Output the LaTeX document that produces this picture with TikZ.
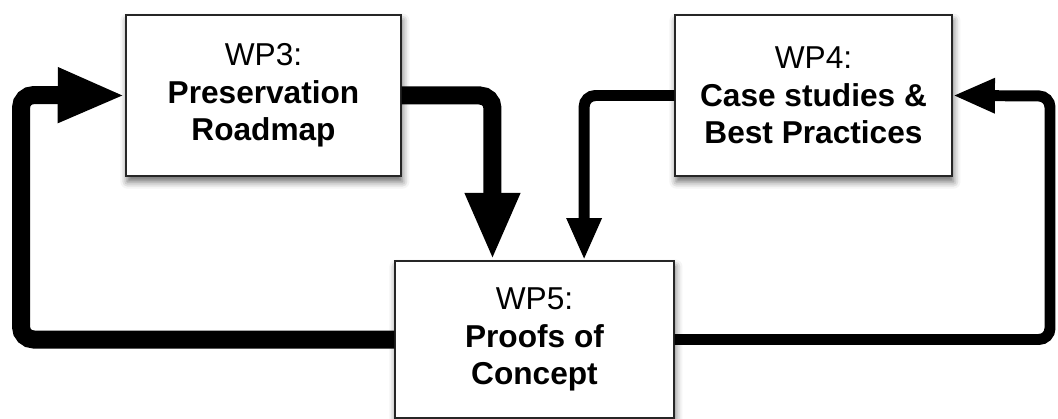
\documentclass[tikz,border=0pt]{standalone}
\usepackage{fontspec}
\setmainfont{Liberation Sans}
\usetikzlibrary{arrows.meta,positioning,shadows.blur}

\begin{document}
\begin{tikzpicture}[
  x=0.025cm,y=-0.025cm,
  every node/.style={font=\fontsize{22.5}{26.5}\selectfont,align=center},
  wp/.style={draw=black!85,line width=1pt,fill=white,inner sep=0pt,
    blur shadow={shadow xshift=1pt,shadow yshift=-4pt,shadow blur radius=5pt,shadow opacity=60}},
  arrbig/.style={-{Triangle[length=48pt,width=36pt]},line width=12.8pt,rounded corners=9pt},
  arrsmall/.style={-{Triangle[length=30pt,width=23pt]},line width=7.8pt,rounded corners=8pt}
]
  \useasboundingbox (0,0) rectangle (1058,419);

  % Work packages
  \node[wp,minimum width=6.875cm,minimum height=4.025cm] (wp3) at (263.5,95.5) {WP3:\\\textbf{Preservation}\\\textbf{Roadmap}};
  \node[wp,minimum width=6.925cm,minimum height=4.025cm] (wp4) at (813.5,95.5) {WP4:\\\textbf{Case studies \&}\\\textbf{Best Practices}};
  \node[wp,minimum width=6.975cm,minimum height=3.925cm] (wp5) at (534.5,339.5) {WP5:\\\textbf{Proofs of}\\\textbf{Concept}};

  % Loop corners
  \coordinate (lc) at (21,95);
  \coordinate (rc) at (1050,96);

  % Flows into WP5
  \draw[arrbig] (wp3.east) -| ([xshift=-1.05cm]wp5.north);
  \draw[arrsmall] (wp4.west) -| ([xshift=1.24cm]wp5.north);

  % Feedback loops
  \draw[arrbig] (wp5.west) -| (lc) -- (wp3.west);
  \draw[arrsmall] (wp5.east) -| (rc) -- (wp4.east);
\end{tikzpicture}
\end{document}
